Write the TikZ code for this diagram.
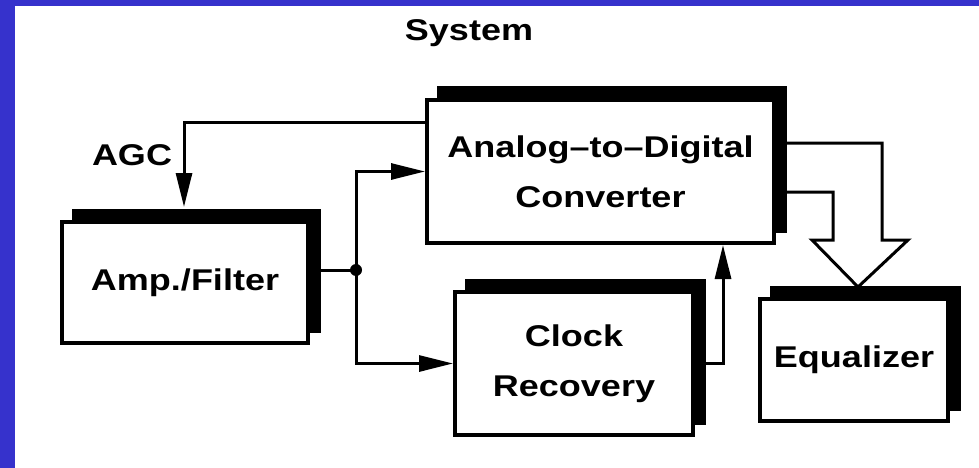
\documentclass[tikz,border=0pt]{standalone}
\usepackage{fontspec}
\newfontfamily\blockfont[FakeStretch=1.2, Ligatures=TeX]{Liberation Sans}
\usetikzlibrary{arrows.meta}
\usetikzlibrary{shadows}
\definecolor{slideblue}{RGB}{54,50,204}
\tikzset{block/.style = {draw, line width=4pt, fill=white, align=center,
                         general shadow={fill=black, draw, line width=3pt,
                                         shadow xshift=11pt, shadow yshift=12pt}}}
\tikzset{sig/.style = {line width=3pt, -{Triangle[length=34pt,width=16pt]}}}
\tikzset{bus/.style = {line width=3pt, line join=miter}}

\begin{document}
\begin{tikzpicture}[x=1pt, y=-1pt, font=\blockfont\bfseries\fontsize{30}{50}\selectfont]
    \useasboundingbox (0,0) rectangle (979,468);
    \fill[white] (0,0) rectangle (979,468);
    \fill[slideblue] (0,0) rectangle (15,468);
    \fill[slideblue] (0,0) rectangle (979,6);

    \node[anchor=base] (title) at (469,41) {System};
    \node[block, minimum width=246pt, minimum height=121pt] (amp) at (185,282.5) {Amp./Filter};
    \node[block, minimum width=347pt, minimum height=143pt] (adc) at (600.5,171.5) {Analog–to–Digital\\Converter};
    \node[block, minimum width=238pt, minimum height=143pt] (clock) at (574,363.5) {Clock\\Recovery};
    \node[block, minimum width=188pt, minimum height=122pt] (eq) at (854,360) {Equalizer};
    \node[anchor=base] (agclabel) at (132,165) {AGC};

    \coordinate (junc) at (356,270);
    \coordinate (agc) at (184,123);
    \coordinate (clkup) at (723,363.5);

    \draw[line width=3pt] (amp.east |- junc) -- (junc);
    \fill (junc) circle (6pt); % branch point
    \draw[sig] (junc) |- (adc.west);
    \draw[sig] (junc) |- (clock.west);
    \draw[sig] (clock.east) -- (clkup) -- (clkup |- adc.south);
    \draw[sig, shorten >=13pt] (adc.west |- agc) -- (agc) -- (agc |- amp.north);

    % wide arrow into the equalizer
    \draw[bus] (784,143) -- (882,143) -- (882,240) -- (908,240) -- (858,287)
               -- (812,240) -- (833,240) -- (833,192) -- (784,192);
\end{tikzpicture}
\end{document}
